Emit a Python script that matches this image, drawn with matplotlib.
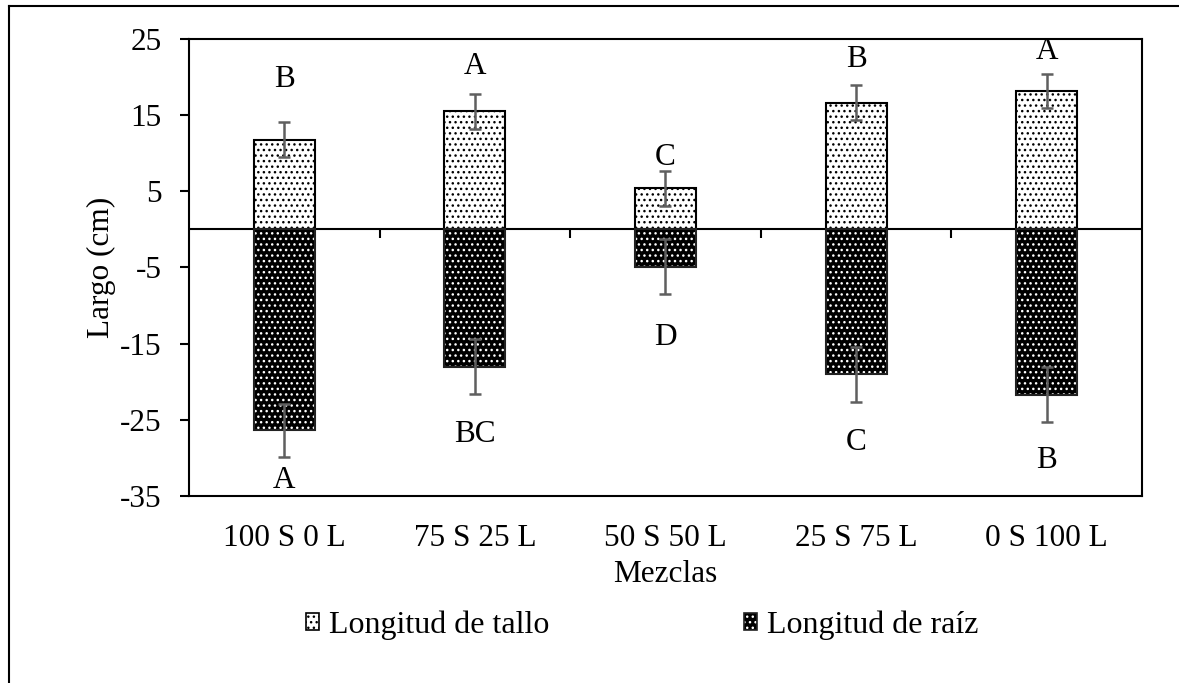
import numpy as np
import matplotlib.pyplot as plt
from matplotlib.patches import Patch
from matplotlib.lines import Line2D

plt.rcParams['font.family'] = ['Liberation Serif', 'DejaVu Serif']
plt.rcParams['hatch.linewidth'] = 1.0
plt.rcParams['axes.unicode_minus'] = False

mezclas = ["100 S 0 L", "75 S 25 L", "50 S 50 L", "25 S 75 L", "0 S 100 L"]
tallo = [11.8, 15.5, 5.4, 16.6, 18.2]
tallo_err = [2.3, 2.3, 2.3, 2.3, 2.2]
raiz = [-26.4, -18.0, -4.9, -19.0, -21.7]
raiz_err = [3.5, 3.6, 3.6, 3.6, 3.6]
letras_tallo = ["B", "A", "C", "B", "A"]
letras_raiz = ["A", "BC", "D", "C", "B"]
# where the significance letters sit (cm)
y_letras_tallo = [19.7, 21.4, 9.4, 22.3, 23.3]
y_letras_raiz = [-33.0, -26.9, -14.2, -28.0, -30.4]

W, H = 1179, 683
fig = plt.figure(figsize=(W / 100, H / 100), dpi=100)
ax = fig.add_axes([189 / W, 1 - 496 / H, (1142 - 189) / W, (496 - 39) / H])

x = np.arange(len(mezclas))
ancho = 0.32
fs = 22.5

# stem bars: white with black dots
ax.bar(x, tallo, ancho, color="white", edgecolor="black", hatch="...", linewidth=1.5, zorder=2)
# root bars: black with white dots, then a dark outline
ax.bar(x, raiz, ancho, color="black", edgecolor="white", hatch="...", linewidth=0, zorder=2)
ax.bar(x, raiz, ancho, fill=False, edgecolor="#222222", linewidth=1.5, zorder=3)

ax.errorbar(x, tallo, yerr=tallo_err, fmt="none", ecolor="#5f5f5f",
            elinewidth=1.8, capsize=4.5, capthick=1.8, zorder=4)
ax.errorbar(x, raiz, yerr=raiz_err, fmt="none", ecolor="#5f5f5f",
            elinewidth=1.8, capsize=4.5, capthick=1.8, zorder=4)

for xi, l, y in zip(x, letras_tallo, y_letras_tallo):
    ax.text(xi, y, l, ha="center", va="center", fontsize=fs)
for xi, l, y in zip(x, letras_raiz, y_letras_raiz):
    ax.text(xi, y, l, ha="center", va="center", fontsize=fs)

# category axis crossing at zero
ax.axhline(0, color="black", linewidth=1.5, zorder=1)
ax.vlines(x[:-1] + 0.5, 0, -1.15, color="black", linewidth=1.5, zorder=1)

ax.set_xlim(-0.5, len(mezclas) - 0.5)
ax.set_ylim(-35, 25)
ax.set_yticks(np.arange(-35, 26, 10))
ax.set_xticks(x)
ax.set_xticklabels(mezclas)
ax.tick_params(axis="x", length=0, pad=20, labelsize=fs)
ax.tick_params(axis="y", length=6.5, width=1.5, pad=13, labelsize=fs)
for s in ax.spines.values():
    s.set_linewidth(1.5)

ax.set_ylabel("Largo (cm)", fontsize=fs, labelpad=3)
ax.set_xlabel("Mezclas", fontsize=fs, labelpad=5)

h_tallo = Patch(facecolor="white", edgecolor="black", hatch="...", linewidth=1.2)
h_raiz = (Patch(facecolor="black", edgecolor="white", hatch="...", linewidth=0),
          Patch(fill=False, edgecolor="#222222", linewidth=1.2))
fig.legend([h_tallo, h_raiz], ["Longitud de tallo", "Longitud de raíz"],
           loc="center", bbox_to_anchor=(642 / W, 1 - 625 / H), ncol=2,
           frameon=False, fontsize=23, handlelength=0.42, handleheight=0.42,
           handletextpad=0.3, columnspacing=6.1)

# outer chart frame
fig.add_artist(Line2D([9 / W, 9 / W], [0, 1 - 5.5 / H], color="black", linewidth=1.5))
fig.add_artist(Line2D([9 / W, 1], [1 - 5.5 / H, 1 - 5.5 / H], color="black", linewidth=1.5))

fig.savefig("out.png", dpi=100)
